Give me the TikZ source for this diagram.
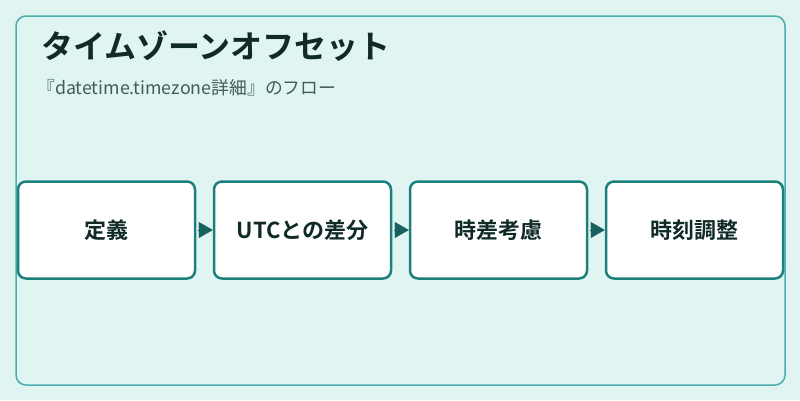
\documentclass[tikz,border=0pt]{standalone}
\usepackage{fontspec}
\usepackage{tikz}
\usetikzlibrary{arrows.meta}
\newfontfamily\jpfont{Noto Sans CJK JP}
\newfontfamily\jpbold{Noto Sans CJK JP Bold}
\definecolor{TZBack}{HTML}{E0F4F2}
\definecolor{TZFrame}{HTML}{4AAEAC}
\definecolor{TZEdge}{HTML}{1E807C}
\definecolor{TZArrow}{HTML}{17625E}
\definecolor{TZTitle}{HTML}{102A28}
\definecolor{TZSub}{HTML}{3E5D5B}
\tikzset{
  stepbox/.style={draw=TZEdge, line width=2.5pt, fill=white, rounded corners=8pt,
    minimum width=177pt, minimum height=97pt, inner sep=0pt,
    font=\jpbold\fontsize{22}{26}\selectfont, text=TZTitle},
  flow/.style={draw=TZArrow, line width=0.1pt, shorten <=2pt,
    -{Triangle[length=14pt,width=16pt]}, fill=TZArrow}
}

\begin{document}
\begin{tikzpicture}[x=1pt, y=-1pt]
    % Background
    \fill[TZBack] (0,0) rectangle (800,400);
    \useasboundingbox (0,0) rectangle (800,400);

    % Frame
    \draw[TZFrame, line width=1.5pt, rounded corners=10pt] (16,16) rectangle (785,385);

    % Title
    \node[anchor=west, inner sep=0pt, text=TZTitle, font=\jpbold\fontsize{32}{36}\selectfont] (title) at (41,46) {タイムゾーンオフセット};
    \node[anchor=west, inner sep=0pt, text=TZSub, font=\jpfont\fontsize{17.8}{20}\selectfont] (subtitle) at (37,88) {『datetime.timezone詳細』のフロー};

    % Steps
    \node[stepbox] (define) at (106.5,230) {定義};
    \node[stepbox] (utc) at (302.5,230) {UTCとの差分};
    \node[stepbox] (lag) at (498.5,230) {時差考慮};
    \node[stepbox] (adjust) at (694.5,230) {時刻調整};

    % Arrows
    \draw[flow] (define.east) -- (utc.west);
    \draw[flow] (utc.east) -- (lag.west);
    \draw[flow] (lag.east) -- (adjust.west);
\end{tikzpicture}
\end{document}
